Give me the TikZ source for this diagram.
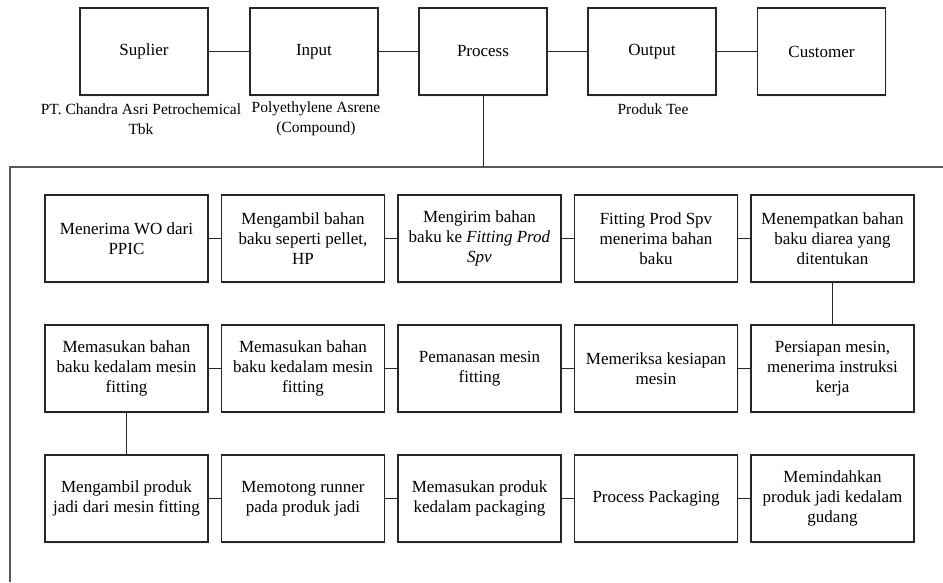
\documentclass[tikz,border=0pt]{standalone}
\usepackage{fontspec}
\setmainfont{Liberation Serif}
\usetikzlibrary{shadows}
\begin{document}
\begin{tikzpicture}[x=1pt,y=-1pt,
  boxbase/.style={draw=black!85, line width=1.1pt, fill=white, inner sep=0pt, align=center,
    font=\fontsize{17}{20}\selectfont,
    drop shadow={shadow xshift=1pt, shadow yshift=-2pt, fill=blue!10, opacity=0.5}},
  topbox/.style={boxbase, minimum width=128pt, minimum height=87pt},
  stepbox/.style={boxbase, minimum width=163pt, minimum height=87pt},
  lbl/.style={align=center, inner sep=0pt, font=\fontsize{15.5}{20}\selectfont},
  conn/.style={draw=black!85, line width=1pt},
  frameline/.style={draw=black!65, line width=1.2pt}]
\useasboundingbox (0,0) rectangle (943,582);
% top row
\node[topbox] (sup) at (144,51.5) {Suplier};
\node[topbox] (inp) at (314,51.5) {Input};
\node[topbox] (pro) at (483,51.5) {Process};
\node[topbox] (out) at (652,51.5) {Output};
\node[topbox] (cus) at (821.5,51.5) {Customer};
\draw[conn] (sup) -- (inp);
\draw[conn] (inp) -- (pro);
\draw[conn] (pro) -- (out);
\draw[conn] (out) -- (cus);
\node[lbl] (lsup) at (141,119) {PT. Chandra Asri Petrochemical\\Tbk};
\node[lbl] (linp) at (316,119) {Polyethylene Asrene\\(Compound)};
\node[lbl] (lout) at (653,109) {Produk Tee};
% frame
\coordinate (ftop) at (483,167);
\draw[frameline] (943,167) -- (10,167) -- (10,582);
\draw[conn] (pro) -- (ftop);
% row 1
\node[stepbox] (a1) at (126.5,238.5) {Menerima WO dari\\PPIC};
\node[stepbox] (a2) at (303,238.5) {Mengambil bahan\\baku seperti pellet,\\HP};
\node[stepbox] (a3) at (479.5,238.5) {Mengirim bahan\\baku ke \textit{Fitting Prod}\\\textit{Spv}};
\node[stepbox] (a4) at (656,238.5) {Fitting Prod Spv\\menerima bahan\\baku};
\node[stepbox] (a5) at (832.5,238.5) {Menempatkan bahan\\baku diarea yang\\ditentukan};
% row 2
\node[stepbox] (b1) at (126.5,368.5) {Memasukan bahan\\baku kedalam mesin\\fitting};
\node[stepbox] (b2) at (303,368.5) {Memasukan bahan\\baku kedalam mesin\\fitting};
\node[stepbox] (b3) at (479.5,368.5) {Pemanasan mesin\\fitting};
\node[stepbox] (b4) at (656,368.5) {Memeriksa kesiapan\\mesin};
\node[stepbox] (b5) at (832.5,368.5) {Persiapan mesin,\\menerima instruksi\\kerja};
% row 3
\node[stepbox] (c1) at (126.5,498.5) {Mengambil produk\\jadi dari mesin fitting};
\node[stepbox] (c2) at (303,498.5) {Memotong runner\\pada produk jadi};
\node[stepbox] (c3) at (479.5,498.5) {Memasukan produk\\kedalam packaging};
\node[stepbox] (c4) at (656,498.5) {Process Packaging};
\node[stepbox] (c5) at (832.5,498.5) {Memindahkan\\produk jadi kedalam\\gudang};
% connectors
\draw[conn] (a1) -- (a2);
\draw[conn] (a2) -- (a3);
\draw[conn] (a3) -- (a4);
\draw[conn] (a4) -- (a5);
\draw[conn] (a5) -- (b5);
\draw[conn] (b5) -- (b4);
\draw[conn] (b4) -- (b3);
\draw[conn] (b3) -- (b2);
\draw[conn] (b2) -- (b1);
\draw[conn] (b1) -- (c1);
\draw[conn] (c1) -- (c2);
\draw[conn] (c2) -- (c3);
\draw[conn] (c3) -- (c4);
\draw[conn] (c4) -- (c5);
\end{tikzpicture}
\end{document}
